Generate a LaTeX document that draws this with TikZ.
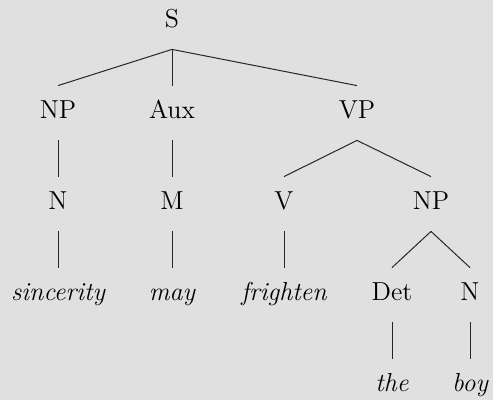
\documentclass[tikz,border=0pt]{standalone}
\usepackage{tikz}
\definecolor{bgcol}{RGB}{224,224,224}
\tikzset{
  catnode/.style={inner xsep=2pt, inner ysep=8.5pt, text height=8pt, text depth=2pt, font=\fontsize{13}{15}\selectfont},
  wordnode/.style={catnode, font=\fontsize{13}{15}\selectfont\itshape},
  branch/.style={line width=0.5pt, black!85}
}

\begin{document}
\begin{tikzpicture}[x=0.5pt, y=-0.5pt]
  \fill[bgcol] (0,0) rectangle (493,400);
  \useasboundingbox (0,0) rectangle (493,400);
  % categories
  \node[catnode] (s) at (172,22) {S};
  \node[catnode] (np) at (58,113) {NP};
  \node[catnode] (aux) at (172,113) {Aux};
  \node[catnode] (vp) at (357,113) {VP};
  \node[catnode] (n) at (58,204) {N};
  \node[catnode] (m) at (172,204) {M};
  \node[catnode] (v) at (284,204) {V};
  \node[catnode] (np2) at (431,204) {NP};
  \node[wordnode] (sincerity) at (58,295) {sincerity};
  \node[wordnode] (may) at (172,295) {may};
  \node[wordnode] (frighten) at (284,295) {frighten};
  \node[catnode] (det) at (392,295) {Det};
  \node[catnode] (n2) at (470,295) {N};
  \node[wordnode] (the) at (392,386) {the};
  \node[wordnode] (boy) at (470,386) {boy};
  % branches
  \draw[branch] (s.south) -- (np.north);
  \draw[branch] (s.south) -- (aux.north);
  \draw[branch] (s.south) -- (vp.north);
  \draw[branch] (np.south) -- (n.north);
  \draw[branch] (aux.south) -- (m.north);
  \draw[branch] (vp.south) -- (v.north);
  \draw[branch] (vp.south) -- (np2.north);
  \draw[branch] (n.south) -- (sincerity.north);
  \draw[branch] (m.south) -- (may.north);
  \draw[branch] (v.south) -- (frighten.north);
  \draw[branch] (np2.south) -- (det.north);
  \draw[branch] (np2.south) -- (n2.north);
  \draw[branch] (det.south) -- (the.north);
  \draw[branch] (n2.south) -- (boy.north);
\end{tikzpicture}
\end{document}
